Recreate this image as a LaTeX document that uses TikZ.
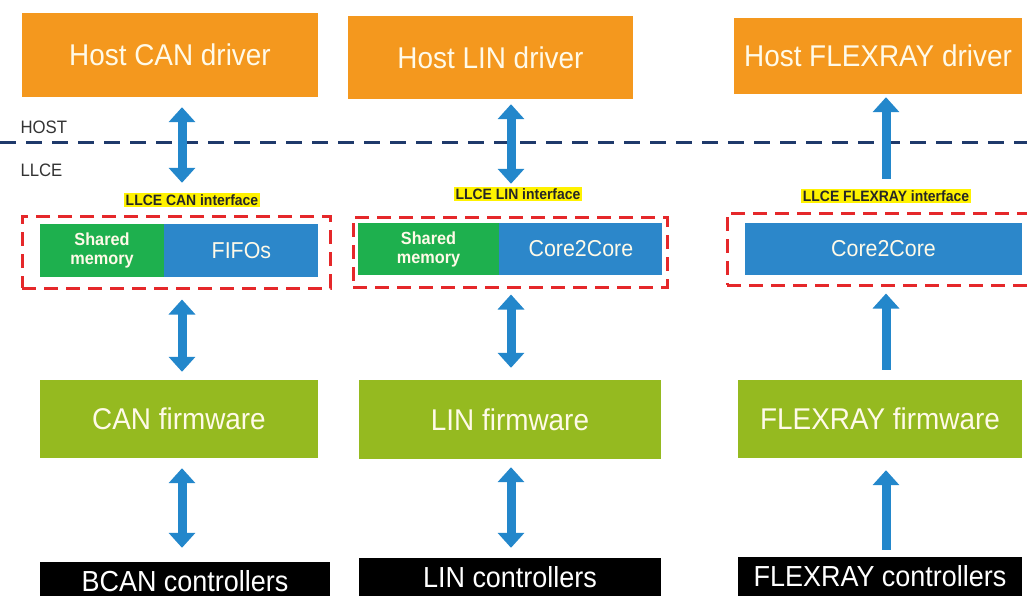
\documentclass[tikz,border=0pt]{standalone}
\usepackage{fontspec}
\setmainfont[FakeStretch=0.93]{Liberation Sans}
\usepackage{tikz}
\usetikzlibrary{arrows.meta,calc,positioning}

\definecolor{hostorange}{RGB}{244,152,30}
\definecolor{fwgreen}{RGB}{149,186,32}
\definecolor{shmgreen}{RGB}{30,176,78}
\definecolor{c2cblue}{RGB}{44,135,202}
\definecolor{arrowblue}{RGB}{35,135,203}
\definecolor{framered}{RGB}{229,40,42}
\definecolor{sepnavy}{RGB}{31,58,107}
\definecolor{boxtext}{RGB}{255,250,232}

\tikzset{
  box/.style={rectangle, inner sep=0pt, text=boxtext, align=center},
  hostbox/.style={box, fill=hostorange, font=\fontsize{30}{33}\selectfont},
  fwbox/.style={box, fill=fwgreen, font=\fontsize{30}{33}\selectfont},
  ctlbox/.style={box, fill=black, text=white, font=\fontsize{29}{32}\selectfont},
  shmbox/.style={box, fill=shmgreen, font=\bfseries\fontsize{17.5}{19}\selectfont},
  c2cbox/.style={box, fill=c2cblue, font=\fontsize{23}{26}\selectfont},
  ifframe/.style={rectangle, draw=framered, line width=3pt, dash pattern=on 14pt off 8pt},
  iflabel/.style={fill=yellow, inner sep=1.5pt, font=\bfseries\fontsize{15}{17}\selectfont, text=black!85},
  layer/.style={anchor=west, font=\fontsize{18}{20}\selectfont, text=black!80},
  sepline/.style={draw=sepnavy, line width=3pt, dash pattern=on 16pt off 10pt},
  dblarrow/.style={draw=arrowblue, line width=9pt,
    {Triangle[width=26pt,length=15pt]}-{Triangle[width=26pt,length=15pt]}},
  uparrow/.style={draw=arrowblue, line width=9pt, -{Triangle[width=26pt,length=15pt]}}
}

\begin{document}
\begin{tikzpicture}[x=1pt,y=-1pt]
  \useasboundingbox (0,0) rectangle (1027,596);

  % host drivers
  \node[hostbox, minimum width=296pt, minimum height=84pt] (hostcan) at (170,55) {Host CAN driver};
  \node[hostbox, minimum width=285pt, minimum height=83pt] (hostlin) at (490.5,57.5) {Host LIN driver};
  \node[hostbox, minimum width=288pt, minimum height=76pt] (hostfr) at (878,56) {Host FLEXRAY driver};

  % HOST / LLCE border
  \coordinate (sepL) at (0,143);
  \coordinate (sepR) at (1027,143);
  \draw[sepline] (sepL) -- (sepR);
  \node[layer] (hostlbl) at (17,127) {HOST};
  \node[layer] (llcelbl) at (17,170) {LLCE};

  % interfaces
  \node[iflabel] (canif) at (192,200) {LLCE CAN interface};
  \node[iflabel] (linif) at (518,194) {LLCE LIN interface};
  \node[iflabel] (frif) at (886,196) {LLCE FLEXRAY interface};

  \node[ifframe, minimum width=308pt, minimum height=72pt] (canframe) at (176,252) {};
  \node[ifframe, minimum width=314pt, minimum height=70pt] (linframe) at (510,252) {};
  \node[ifframe, minimum width=303pt, minimum height=72pt] (frframe) at (878.5,249) {};

  \node[shmbox, minimum width=124pt, minimum height=53pt] (canshm) at (102,250.5) {Shared\\memory};
  \node[c2cbox, minimum width=154pt, minimum height=53pt, right=0pt of canshm] (canfifo) {FIFOs};
  \node[shmbox, minimum width=141pt, minimum height=52pt] (linshm) at (428.5,249) {Shared\\memory};
  \node[c2cbox, minimum width=163pt, minimum height=52pt, right=0pt of linshm] (linc2c) {Core2Core};
  \node[c2cbox, minimum width=277pt, minimum height=52pt] (frc2c) at (883.5,249) {Core2Core};

  % firmware
  \node[fwbox, minimum width=278pt, minimum height=78pt] (canfw) at (179,419) {CAN firmware};
  \node[fwbox, minimum width=302pt, minimum height=79pt] (linfw) at (510,419.5) {LIN firmware};
  \node[fwbox, minimum width=284pt, minimum height=78pt] (frfw) at (880,419) {FLEXRAY firmware};

  % controllers
  \node[ctlbox, minimum width=290pt, minimum height=38pt] (canctl) at (185,581) {BCAN controllers};
  \node[ctlbox, minimum width=302pt, minimum height=38pt] (linctl) at (510,577) {LIN controllers};
  \node[ctlbox, minimum width=284pt, minimum height=39pt] (frctl) at (880,576.5) {FLEXRAY controllers};

  % arrow columns
  \coordinate (cancol) at (182,0);
  \coordinate (lincol) at (511,0);
  \coordinate (frcol) at (886,0);

  \draw[dblarrow, shorten <=10pt, shorten >=10pt] (hostcan.south -| cancol) -- (canif.north -| cancol);
  \draw[dblarrow, shorten <=10pt, shorten >=8pt] (canframe.south -| cancol) -- (canfw.north -| cancol);
  \draw[dblarrow, shorten <=10pt, shorten >=14pt] (canfw.south -| cancol) -- (canctl.north -| cancol);

  \draw[dblarrow, shorten <=5pt, shorten >=3pt] (hostlin.south -| lincol) -- (linif.north -| lincol);
  \draw[dblarrow, shorten <=6pt, shorten >=12pt] (linframe.south -| lincol) -- (linfw.north -| lincol);
  \draw[dblarrow, shorten <=8pt, shorten >=10pt] (linfw.south -| lincol) -- (linctl.north -| lincol);

  \draw[uparrow, shorten <=10pt, shorten >=3pt] (frif.north -| frcol) -- (hostfr.south -| frcol);
  \draw[uparrow, shorten <=10pt, shorten >=7pt] (frfw.north -| frcol) -- (frframe.south -| frcol);
  \draw[uparrow, shorten <=7pt, shorten >=12pt] (frctl.north -| frcol) -- (frfw.south -| frcol);
\end{tikzpicture}
\end{document}
